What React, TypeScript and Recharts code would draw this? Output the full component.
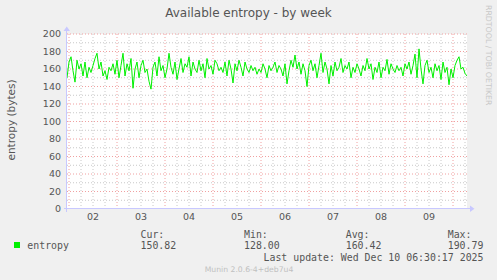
import React from 'react';
import { LineChart, Line, XAxis, YAxis, ReferenceLine, CartesianGrid } from 'recharts';

// entropy samples, one per hour (x unit = 30 minutes)
const entropyValues: number[] = [
  150, 168, 174, 158, 145, 170, 160, 166, 152, 168,
  150, 162, 156, 164, 172, 178, 160, 168, 152, 158,
  148, 162, 158, 166, 154, 170, 150, 164, 178, 152,
  166, 158, 172, 138, 160, 168, 150, 164, 170, 156,
  160, 146, 137, 162, 168, 152, 174, 158, 164, 150,
  160, 178, 162, 154, 168, 148, 160, 172, 156, 166,
  162, 174, 152, 168, 160, 156, 170, 158, 166, 150,
  172, 160, 164, 154, 170, 166, 158, 162, 156, 168,
  152, 170, 160, 144, 166, 158, 170, 162, 152, 168,
  160, 156, 164, 158, 162, 154, 160, 156, 166, 160,
  150, 164, 158, 162, 168, 156, 164, 160, 152, 166,
  143, 158, 170, 162, 176, 160, 168, 154, 166, 158,
  140, 164, 170, 158, 166, 150, 164, 178, 156, 168,
  160, 143, 164, 152, 168, 158, 162, 172, 156, 164,
  160, 168, 150, 162, 156, 166, 160, 152, 164, 158,
  172, 160, 166, 148, 162, 156, 168, 150, 162, 158,
  171, 154, 166, 160, 156, 164, 158, 162, 152, 166,
  160, 168, 154, 164, 177, 150, 183, 160, 143, 164,
  170, 156, 162, 150, 166, 158, 164, 148, 168, 156,
  162, 142, 160, 150, 164, 170, 174, 160, 162, 155,
  152,
];
const unitsPerSample = 2;

const dayLabels = ['02', '03', '04', '05', '06', '07', '08', '09'];
const dayLabelPositions = [26, 74, 122, 170, 218, 266, 314, 362];
const dayBoundaries = [2, 50, 98, 146, 194, 242, 290, 338, 386];
const minorVertical = [14, 26, 38, 62, 74, 86, 110, 122, 134, 158, 170, 182, 206, 218, 230, 254, 266, 278, 302, 314, 326, 350, 362, 374, 398];
const yTicks = [0, 20, 40, 60, 80, 100, 120, 140, 160, 180, 200];
const yMinor = [10, 30, 50, 70, 90, 110, 130, 150, 170, 190];

const legendStats = [
  { label: 'Cur:', value: '150.82' },
  { label: 'Min:', value: '128.00' },
  { label: 'Avg:', value: '160.42' },
  { label: 'Max:', value: '190.79' },
];
const statX = [140.5, 244, 345.7, 447.7];

const data = entropyValues.map((v, i) => ({ t: i * unitsPerSample, entropy: v }));

const GREEN = '#00f000';
const MONO = "'DejaVu Sans Mono', monospace";
const SANS = "'DejaVu Sans', sans-serif";

export default function App() {
  return (
    <div style={{ position: 'fixed', left: 0, top: 0, width: 497, height: 280, background: '#f0f0f0' }}>
      <LineChart width={497} height={280} data={data} margin={{ top: 34, right: 30, left: 27, bottom: 51 }}>
        <CartesianGrid fill="#ffffff" horizontal={false} vertical={false} stroke="none" />
        {yMinor.map((v) => (
          <ReferenceLine key={'ym' + v} y={v} stroke="#c8c8c8" strokeDasharray="1 2" />
        ))}
        {minorVertical.map((v) => (
          <ReferenceLine key={'xm' + v} x={v} stroke="#c8c8c8" strokeDasharray="1 2" />
        ))}
        {yTicks.slice(1).map((v) => (
          <ReferenceLine key={'yM' + v} y={v} stroke="#f0a0a0" strokeDasharray="1 2" />
        ))}
        {dayBoundaries.map((v) => (
          <ReferenceLine key={'xM' + v} x={v} stroke="#f0a0a0" strokeDasharray="1 2" />
        ))}
        <XAxis
          type="number"
          dataKey="t"
          domain={[0, 400]}
          ticks={dayLabelPositions}
          tickFormatter={(v: number) => dayLabels[dayLabelPositions.indexOf(v)] ?? ''}
          axisLine={false}
          tickLine={false}
          tickSize={0}
          tickMargin={4}
          height={20}
          interval={0}
          allowDataOverflow
          tick={{ fontFamily: SANS, fontSize: 9.5, fill: '#555' }}
        />
        <YAxis
          type="number"
          domain={[0, 200]}
          ticks={yTicks}
          axisLine={false}
          tickLine={false}
          tickSize={0}
          tickMargin={6}
          width={40}
          interval={0}
          allowDataOverflow
          tick={{ fontFamily: SANS, fontSize: 9.5, fill: '#555' }}
        />
        <Line
          type="linear"
          dataKey="entropy"
          stroke={GREEN}
          strokeWidth={1}
          dot={false}
          isAnimationActive={false}
        />
      </LineChart>
      <svg width={497} height={280} style={{ position: 'absolute', left: 0, top: 0, pointerEvents: 'none' }}>
        <line x1={66.5} y1={212} x2={66.5} y2={30} stroke="#c8c8ff" />
        <polygon points="63.5,31 70,31 66.75,26.5" fill="#c8c8ff" />
        <line x1={64} y1={208.5} x2={470} y2={208.5} stroke="#c8c8ff" />
        <polygon points="470,205.5 470,212 474.5,208.75" fill="#c8c8ff" />
        <text x={248.5} y={16.8} textAnchor="middle" fontFamily={SANS} fontSize={12} fill="#555">
          Available entropy - by week
        </text>
        <text transform="translate(15,120) rotate(-90)" textAnchor="middle" fontFamily={SANS} fontSize={10.5} fill="#555">
          entropy (bytes)
        </text>
        <text transform="translate(486,5) rotate(90)" textAnchor="start" fontFamily={SANS} fontSize={7.8} fill="#c8c8c8">
          RRDTOOL / TOBI OETIKER
        </text>
        <rect x={14} y={242} width={6} height={6} fill={GREEN} />
        <text x={27.3} y={249.3} fontFamily={MONO} fontSize={9.9} fill="#555">entropy</text>
        {legendStats.map((s, i) => (
          <g key={s.label}>
            <text x={statX[i]} y={237.5} fontFamily={MONO} fontSize={9.9} fill="#555">{s.label}</text>
            <text x={statX[i]} y={249.3} fontFamily={MONO} fontSize={9.9} fill="#555">{s.value}</text>
          </g>
        ))}
        <text x={483.5} y={260.5} textAnchor="end" fontFamily={MONO} fontSize={9.9} fill="#555" xmlSpace="preserve">
          Last update: Wed Dec 10 06:30:17 2025
        </text>
        <text x={249} y={272} textAnchor="middle" fontFamily={SANS} fontSize={7.7} fill="#c0c0c0">
          Munin 2.0.6-4+deb7u4
        </text>
      </svg>
    </div>
  );
}
